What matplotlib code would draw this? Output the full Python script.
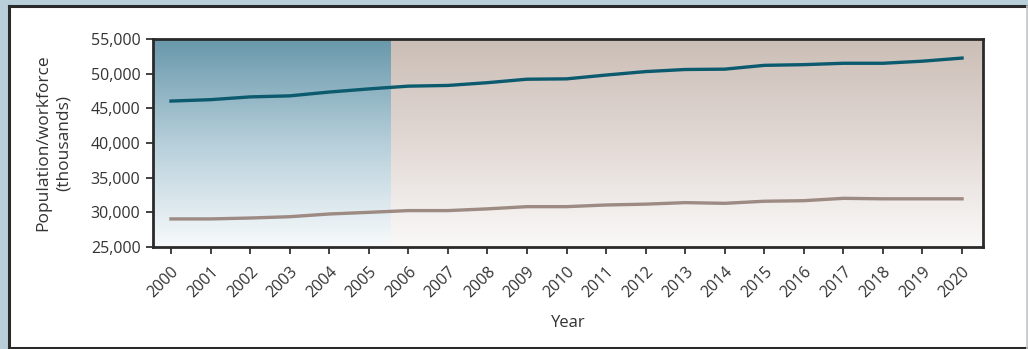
import numpy as np
import matplotlib
matplotlib.use("Agg")
import matplotlib.pyplot as plt
from matplotlib.colors import LinearSegmentedColormap
from matplotlib.lines import Line2D
from matplotlib.patches import Rectangle

plt.rcParams['font.family'] = ['Open Sans', 'DejaVu Sans']

years = list(range(2000, 2021))
population = [46050, 46250, 46650, 46800, 47350, 47800, 48200, 48300, 48700, 49200,
              49250, 49800, 50300, 50600, 50650, 51200, 51300, 51500, 51500, 51800, 52250]
workforce = [29050, 29050, 29180, 29370, 29760, 30000, 30250, 30250, 30500, 30820,
             30820, 31060, 31180, 31400, 31300, 31600, 31680, 32020, 31950, 31950, 31950]
shade_end = 2005.56

fig = plt.figure(figsize=(10.28, 3.49), dpi=100)
fig.patch.set_facecolor('#b8cfd9')

# white panel with border (drawn beneath the axes)
W, H = 1028.0, 349.0
fig.patches.append(Rectangle((9 / W, 0), (1027 - 9) / W, (H - 6) / H,
                             transform=fig.transFigure, facecolor='white',
                             edgecolor='none', zorder=-2))
for xs, ys, c in [([9, 9], [0, H - 6], '#2a2a2a'),
                  ([9, 1027], [H - 6, H - 6], '#2a2a2a'),
                  ([9, 1027], [1.5, 1.5], '#2a2a2a'),
                  ([1027, 1027], [0, H - 6], '#c8c8c8')]:
    fig.lines.append(Line2D([x / W for x in xs], [y / H for y in ys],
                            transform=fig.transFigure, color=c,
                            lw=2.2 if c == '#2a2a2a' else 1.2, zorder=-1))

ax = fig.add_axes([153 / W, (H - 247) / H, 830 / W, 208 / H])
ax.set_zorder(1)
xmin, xmax = 1999.545, 2020.53
ymin, ymax = 25000, 55000

grad = np.linspace(1, 0, 256).reshape(-1, 1)
blue = LinearSegmentedColormap.from_list('b', ['#f7fafb', '#b6cfda', '#6898ab'])
brown = LinearSegmentedColormap.from_list('r', ['#faf9f8', '#e2d9d5', '#cbbeb6'])
ax.imshow(grad, cmap=blue, aspect='auto', extent=[xmin, shade_end, ymin, ymax], zorder=0)
ax.imshow(grad, cmap=brown, aspect='auto', extent=[shade_end, xmax, ymin, ymax], zorder=0)

ax.plot(years, population, color='#0b5a6e', lw=2.4, zorder=3)
ax.plot(years, workforce, color='#9d8a83', lw=2.4, zorder=3)

ax.set_xlim(xmin, xmax)
ax.set_ylim(ymin, ymax)
ax.set_xticks(years)
ax.set_xticklabels([str(y) for y in years], rotation=45, ha='right',
                   rotation_mode='anchor', fontsize=11.5, color='#333333')
ax.set_yticks(range(25000, 55001, 5000))
ax.set_yticklabels([f'{v:,}' for v in range(25000, 55001, 5000)],
                   fontsize=11.5, color='#333333')
ax.tick_params(direction='out', length=5, width=1.3, color='#333333', pad=4)
ax.tick_params(axis='x', pad=7)
for s in ax.spines.values():
    s.set_linewidth(2)
    s.set_color('#2a2a2a')

ax.set_xlabel('Year', fontsize=12, color='#333333', labelpad=10)
ax.set_ylabel('Population/workforce\n(thousands)', fontsize=12.5, color='#333333',
              labelpad=14, linespacing=1.3)

fig.savefig('out.png', dpi=100, facecolor=fig.get_facecolor())
